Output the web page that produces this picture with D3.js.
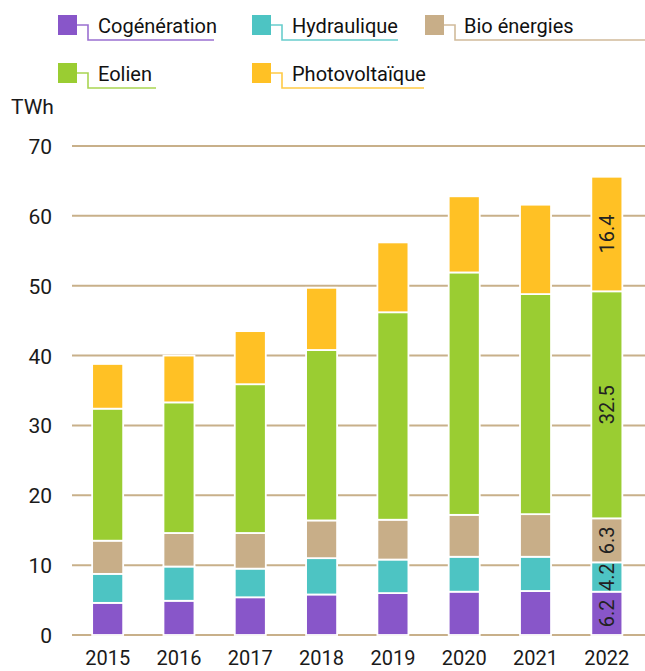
<!DOCTYPE html>
<html>
<head>
<meta charset="utf-8">
<script src="https://cdn.jsdelivr.net/npm/d3@7"></script>
<style>
  html, body { margin: 0; padding: 0; background: #fff; }
  svg { display: block; font-family: Roboto, "Liberation Sans", sans-serif; }
</style>
</head>
<body>
<svg id="chart" width="645" height="671"></svg>
<script>
const years = ["2015", "2016", "2017", "2018", "2019", "2020", "2021", "2022"];
const seriesNames = ["Cogénération", "Hydraulique", "Bio énergies", "Eolien", "Photovoltaïque"];
const cogeneration   = [4.6, 4.9, 5.4, 5.8, 6.0, 6.2, 6.3, 6.2];
const hydraulique    = [4.15, 4.9, 4.1, 5.2, 4.8, 5.0, 4.9, 4.2];
const bioEnergies    = [4.75, 4.8, 5.1, 5.4, 5.7, 6.0, 6.1, 6.3];
const eolien         = [18.9, 18.7, 21.3, 24.4, 29.7, 34.7, 31.5, 32.5];
const photovoltaique = [6.4, 6.7, 7.6, 8.9, 10.0, 10.9, 12.8, 16.4];
const yTicks = [0, 10, 20, 30, 40, 50, 60, 70];
const labelledYear = "2022";
const colors = ["#8856c9", "#4dc4c3", "#c8ae88", "#9acd32", "#ffc125"];

const seriesValues = [cogeneration, hydraulique, bioEnergies, eolien, photovoltaique];
const table = years.map((y, i) => {
  const row = { year: y };
  seriesNames.forEach((s, k) => row[s] = seriesValues[k][i]);
  return row;
});

const svg = d3.select("#chart");
const x = d3.scaleBand().domain(years).range([72, 642.5]).paddingInner(0.565).paddingOuter(0.2825);
const y = d3.scaleLinear().domain([0, 70]).range([635, 146]);

// gridlines
svg.append("g").selectAll("line").data(yTicks).join("line")
  .attr("x1", 72).attr("x2", 645)
  .attr("y1", d => y(d)).attr("y2", d => y(d))
  .attr("stroke", "#c8b08a").attr("stroke-width", 2);

// y axis labels
const yAxis = d3.axisLeft(y).tickValues(yTicks).tickSize(0).tickPadding(0);
const yg = svg.append("g").attr("transform", "translate(52,0)").call(yAxis);
yg.select(".domain").remove();
yg.selectAll("text").attr("font-size", 21).attr("fill", "#1a1a1a")
  .attr("font-family", "Roboto, sans-serif").attr("dy", "0.36em");

svg.append("text").attr("x", 11).attr("y", 114).text("TWh")
  .attr("font-size", 21).attr("fill", "#1a1a1a");

// x axis labels
const xAxis = d3.axisBottom(x).tickSize(0).tickPadding(0);
const xg = svg.append("g").attr("transform", "translate(0,651)").call(xAxis);
xg.select(".domain").remove();
xg.selectAll("text").attr("font-size", 20).attr("fill", "#1a1a1a")
  .attr("font-family", "Roboto, sans-serif").attr("dy", "0.72em");

// stacked bars
const stack = d3.stack().keys(seriesNames);
const stacked = stack(table);
const layers = svg.append("g").selectAll("g").data(stacked).join("g")
  .attr("fill", (d, i) => colors[i]);
layers.selectAll("rect").data(d => d).join("rect")
  .attr("x", d => x(d.data.year))
  .attr("width", x.bandwidth())
  .attr("y", d => y(d[1]))
  .attr("height", d => y(d[0]) - y(d[1]))
  .attr("stroke", "#fff").attr("stroke-width", 1.8);

// value labels for last year
const lab = svg.append("g");
stacked.forEach(layer => {
  layer.forEach(d => {
    if (d.data.year !== labelledYear) return;
    const cx = x(d.data.year) + x.bandwidth() / 2;
    const cy = (y(d[0]) + y(d[1])) / 2;
    lab.append("text")
      .attr("transform", `translate(${cx},${cy}) rotate(-90)`)
      .attr("text-anchor", "middle").attr("dy", "0.36em")
      .attr("font-size", 20).attr("fill", "#222")
      .text(d3.format(".1f")(d[1] - d[0]));
  });
});

// legend
const legendItems = [
  { name: seriesNames[0], sx: 58, sy: 15, vx: 88, tx: 98, ex: 214 },
  { name: seriesNames[1], sx: 252, sy: 15, vx: 282, tx: 292, ex: 398 },
  { name: seriesNames[2], sx: 425, sy: 15, vx: 455, tx: 464, ex: 645 },
  { name: seriesNames[3], sx: 58, sy: 63, vx: 88, tx: 98, ex: 156 },
  { name: seriesNames[4], sx: 252, sy: 63, vx: 282, tx: 292, ex: 424 }
];
const lg = svg.append("g");
legendItems.forEach((it, i) => {
  const g = lg.append("g");
  const c = colors[i];
  g.append("rect").attr("x", it.sx).attr("y", it.sy).attr("width", 19).attr("height", 20).attr("fill", c);
  const my = it.sy + 10, by = it.sy + 25;
  g.append("path")
    .attr("d", `M${it.sx + 19},${my}H${it.vx}V${by}H${it.ex}`)
    .attr("fill", "none").attr("stroke", c).attr("stroke-width", 1.6).attr("opacity", 0.85);
  g.append("text").attr("x", it.tx).attr("y", it.sy + 18).text(it.name)
    .attr("font-size", 20).attr("fill", "#111");
});
</script>
</body>
</html>
